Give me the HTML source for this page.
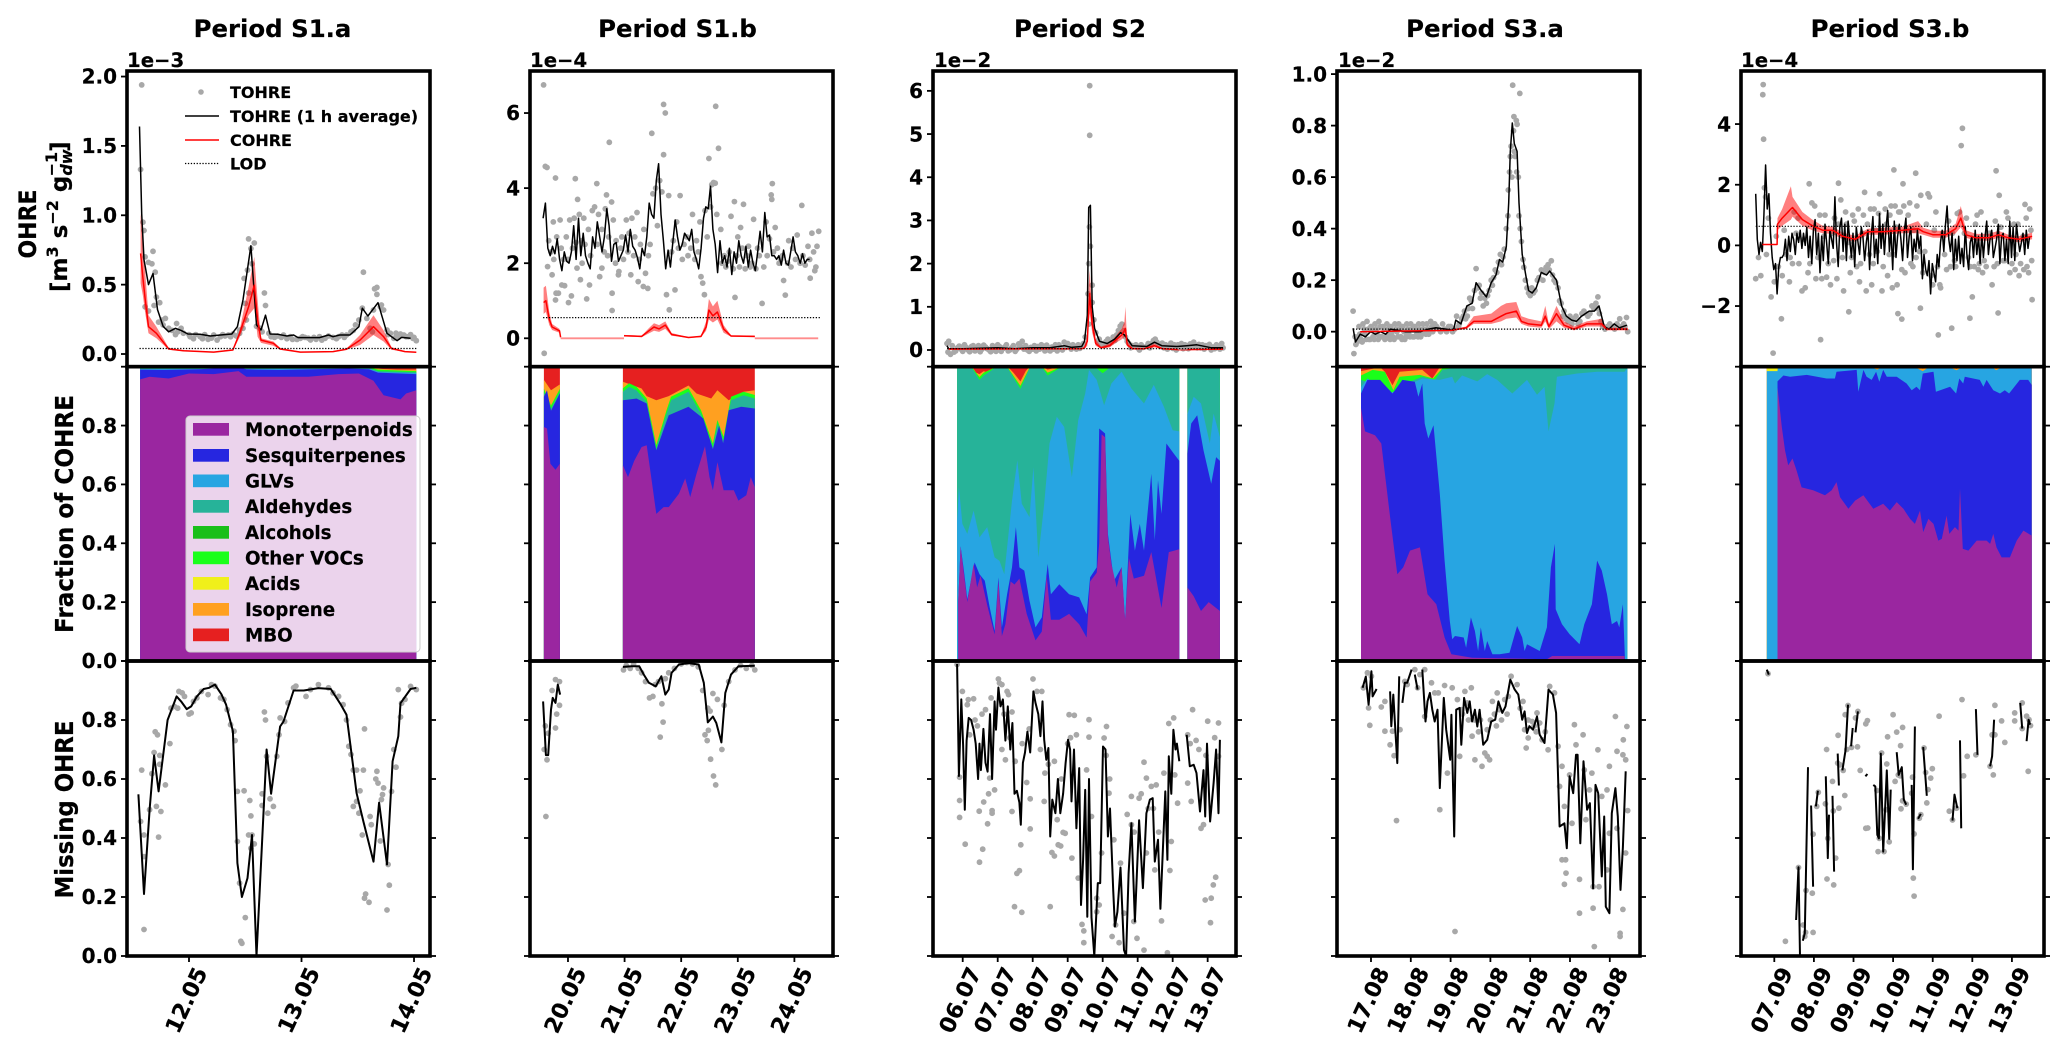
<!DOCTYPE html>
<html lang="en">
<head>
<meta charset="utf-8">
<title>OHRE periods chart</title>
<style>
html,body{margin:0;padding:0;background:#fff;}
svg{display:block;}
text{font-family:"DejaVu Sans","Liberation Sans",sans-serif;font-weight:bold;fill:#000;stroke:#000;stroke-width:0.2;}
</style>
</head>
<body>
<svg id="chart" width="2067" height="1046" viewBox="0 0 2067 1046" xmlns="http://www.w3.org/2000/svg">
<defs id="clips"></defs>
<g id="marks"></g>
<g id="frames"></g>

<g font-size="24.4" text-anchor="middle">
<text x="272.5" y="37">Period S1.a</text>
<text x="677.5" y="37">Period S1.b</text>
<text x="1080" y="37">Period S2</text>
<text x="1485" y="37">Period S3.a</text>
<text x="1890" y="37">Period S3.b</text>
</g>

<g font-size="19.7">
<text x="127" y="67">1e−3</text>
<text x="530" y="67">1e−4</text>
<text x="934" y="67">1e−2</text>
<text x="1338" y="67">1e−2</text>
<text x="1741" y="67">1e−4</text>
</g>

<text transform="rotate(-90 36 224)" x="36" y="224" font-size="24" text-anchor="middle" textLength="69" lengthAdjust="spacingAndGlyphs">OHRE</text>
<text transform="rotate(-90 67 292)" x="67" y="292" font-size="23">[m<tspan font-size="16" dy="-9">3</tspan><tspan dy="9"> s</tspan><tspan font-size="16" dy="-9">−2</tspan><tspan dy="9"> g</tspan><tspan font-size="16" font-style="italic" dy="5">dw</tspan><tspan font-size="16" dx="-27" dy="-15">−1</tspan><tspan dy="10">]</tspan></text>
<text transform="rotate(-90 73 514)" x="73" y="514" font-size="25" text-anchor="middle" textLength="238" lengthAdjust="spacingAndGlyphs">Fraction of COHRE</text>
<text transform="rotate(-90 73 809.5)" x="73" y="809.5" font-size="25" text-anchor="middle" textLength="178" lengthAdjust="spacingAndGlyphs">Missing OHRE</text>

<g font-size="16">
<g><circle cx="201" cy="92" r="2.8" fill="#a8a8a8"/><text x="230" y="98">TOHRE</text></g>
<g><line x1="185" x2="219" y1="116" y2="116" stroke="#000" stroke-width="1.4"/><text x="230" y="122">TOHRE (1 h average)</text></g>
<g><line x1="185" x2="219" y1="140" y2="140" stroke="#f00" stroke-width="1.4"/><text x="230" y="146">COHRE</text></g>
<g><line x1="185" x2="219" y1="163.5" y2="163.5" stroke="#000" stroke-width="1.2" stroke-dasharray="1.3 1.6"/><text x="230" y="169.5">LOD</text></g>
</g>

<g font-size="18.3">
<rect x="186" y="416" width="234" height="236" rx="4" fill="#fff" fill-opacity="0.8" stroke="#ccc" stroke-width="1"/>
<g><rect x="193" y="423" width="36" height="12.7" fill="#9a26a0"/><text x="245" y="436">Monoterpenoids</text></g>
<g><rect x="193" y="449" width="36" height="12.7" fill="#2626e0"/><text x="245" y="462">Sesquiterpenes</text></g>
<g><rect x="193" y="474.5" width="36" height="12.7" fill="#27a5e2"/><text x="245" y="487.5">GLVs</text></g>
<g><rect x="193" y="500" width="36" height="12.7" fill="#26b399"/><text x="245" y="513">Aldehydes</text></g>
<g><rect x="193" y="526" width="36" height="12.7" fill="#1abf1a"/><text x="245" y="539">Alcohols</text></g>
<g><rect x="193" y="551.5" width="36" height="12.7" fill="#1aff1a"/><text x="245" y="564.5">Other VOCs</text></g>
<g><rect x="193" y="577" width="36" height="12.7" fill="#f0f01a"/><text x="245" y="590">Acids</text></g>
<g><rect x="193" y="603" width="36" height="12.7" fill="#ffa020"/><text x="245" y="616">Isoprene</text></g>
<g><rect x="193" y="628.5" width="36" height="12.7" fill="#e62020"/><text x="245" y="641.5">MBO</text></g>
</g>

<script>
// ---------- axis tick data ----------
const s1aXTicks=[12,13,14];
const s1aXLabels=['12.05','13.05','14.05'];
const s1bXTicks=[20,21,22,23,24];
const s1bXLabels=['20.05','21.05','22.05','23.05','24.05'];
const s2XTicks=[6,7,8,9,10,11,12,13];
const s2XLabels=['06.07','07.07','08.07','09.07','10.07','11.07','12.07','13.07'];
const s3aXTicks=[17,18,19,20,21,22,23];
const s3aXLabels=['17.08','18.08','19.08','20.08','21.08','22.08','23.08'];
const s3bXTicks=[7,8,9,10,11,12,13];
const s3bXLabels=['07.09','08.09','09.09','10.09','11.09','12.09','13.09'];
const s1aYTicks=[0,0.5,1,1.5,2];
const s1aYLabels=['0.0','0.5','1.0','1.5','2.0'];
const s1bYTicks=[0,2,4,6];
const s1bYLabels=['0','2','4','6'];
const s2YTicks=[0,1,2,3,4,5,6];
const s2YLabels=['0','1','2','3','4','5','6'];
const s3aYTicks=[0,0.2,0.4,0.6,0.8,1];
const s3aYLabels=['0.0','0.2','0.4','0.6','0.8','1.0'];
const s3bYTicks=[-2,0,2,4];
const s3bYLabels=['−2','0','2','4'];
const fractionTicks=[0,0.2,0.4,0.6,0.8,1];
const fractionLabels=['0.0','0.2','0.4','0.6','0.8',''];
const s1aXLim=[11.449,14.142];
const s1bXLim=[19.329,24.682];
const s2XLim=[5.151,13.81];
const s3aXLim=[16.146,23.759];
const s3bXLim=[6.159,13.81];
const s1aYLim=[-0.0915,2.04];
const s1bYLim=[-0.757,7.12];
const s2YLim=[-0.387,6.46];
const s3aYLim=[-0.136,1.012];
const s3bYLim=[-4,5.75];

// ---------- OHRE row: levels of detection ----------
const s1aLod=[[11.56,0.04],[14.02,0.04]];
const s1bLod=[[19.56,0.55],[24.45,0.55]];
const s2Lod=[[5.55,0.03],[13.44,0.03]];
const s3aLod=[[16.55,0.01],[23.45,0.01]];
const s3bLod=[[6.53,0.63],[13.51,0.63]];

// ---------- OHRE row: TOHRE scatter (day, value) ----------
const s1aPts=[[11.58,1.94],[11.57,1.33],[11.59,.95],[11.6,.89],[11.61,.7],[11.64,.66],[11.67,.65],[11.68,.74],[11.7,.59],[11.61,.34],[11.64,.31],[11.69,.35],[11.71,.41],[11.74,.37],[11.73,.23],[11.76,.245],[11.79,.257],[11.77,.21],[11.82,.185],[11.85,.17],[11.89,.22],[11.88,.14],[11.93,.185],[11.95,.15],[12.01,.125],[12.04,.11],[12.1,.125],[12.17,.106],[12.22,.137],[12.28,.125],[12.35,.137],[12.39,.144],[12.45,.149],[12.49,.545],[12.52,.605],[12.53,.83],[12.55,.76],[12.58,.8],[12.56,.65],[12.53,.44],[12.5,.365],[12.51,.245],[12.48,.185],[12.45,.173],[12.6,.2],[12.63,.185],[12.67,.44],[12.68,.35],[12.65,.16],[12.71,.149],[12.73,.125],[12.76,.12],[12.84,.137],[12.9,.125],[12.99,.113],[13.08,.101],[13.13,.106],[13.21,.113],[13.28,.12],[13.36,.137],[13.4,.137],[13.48,.21],[13.51,.245],[13.55,.59],[13.54,.33],[13.58,.257],[13.61,.185],[13.63,.16],[13.64,.317],[13.65,.47],[13.67,.48],[13.67,.43],[13.7,.34],[13.73,.317],[13.71,.353],[13.76,.173],[13.79,.149],[13.82,.113],[13.88,.144],[13.91,.137],[13.95,.125],[13.99,.113],[14.02,.096],[11.9,.16],[12,.14],[12.12,.11],[12.25,.1],[12.32,.13],[12.92,.105],[13.03,.12],[13.18,.1],[13.31,.11],[13.44,.16],[13.84,.15],[12.06,.14],[12.14,.14],[12.2,.115],[12.3,.14],[12.37,.125],[12.42,.13],[12.79,.13],[12.82,.12],[12.87,.11],[12.96,.105],[13.01,.125],[13.06,.115],[13.11,.12],[13.16,.125],[13.24,.13],[13.33,.125],[13.38,.12],[13.46,.17],[13.77,.14],[13.86,.12],[13.93,.125],[13.97,.14],[14,.12]];
const s1bPts=[[19.57,6.75],[19.58,-.4],[19.6,4.58],[19.63,4.55],[19.78,4.27],[20.13,4.25],[20.17,3.7],[20.51,4.12],[20.73,5.22],[20.68,3.82],[20.77,3.63],[20.78,.74],[20.78,1.2],[21.48,5.46],[21.69,6.23],[21.72,6],[21.69,4.89],[22.61,6.18],[22.66,5.06],[22.49,4.79],[22.57,4.15],[22.54,4.09],[22.6,4.13],[21.79,.76],[21.74,1.16],[21.89,1.29],[22.41,1.16],[22.38,1.47],[22.35,1.64],[23.61,4.12],[23.59,3.82],[23.6,3.7],[23.43,.93],[22.95,1.09],[24.13,3.54],[23.84,1.15],[23.81,1.54],[22.94,3.64],[23.1,3.57],[23.28,3.17],[19.72,1.69],[19.64,1.91],[19.79,1.2],[19.83,1.2],[19.89,1.42],[19.94,1.4],[19.78,1.02],[20.01,.95],[20.06,1.13],[20.33,1.05],[20.38,1.42],[20.22,1.56],[20.16,1.87],[20.56,1.64],[20.6,1.87],[20.89,1.69],[20.9,1.78],[21.11,1.69],[21.24,1.51],[21.33,1.38],[21.41,1.33],[21.37,1.73],
[19.66,2.6],[19.7,2.3],[19.74,3.1],[19.8,2.7],[19.86,3.15],[19.92,2.1],[19.97,2.7],[20.03,3.15],[20.08,2.4],[20.11,3.2],[20.2,3.3],[20.25,2],[20.28,3.2],[20.3,2.5],[20.36,2.9],[20.43,3.4],[20.47,3.5],[20.54,3.3],[20.6,2.9],[20.66,3.45],[20.7,2.2],[20.8,3.15],[20.85,2.6],[20.93,2.4],[20.98,2.1],[21.03,3.15],[21.08,2.8],[21.13,3.2],[21.18,2.7],[21.22,3.35],[21.28,2.5],[21.34,2.9],[21.42,2.2],[21.5,3.85],[21.55,4],[21.58,3],[21.62,4.2],[21.66,3.9],[21.78,3.8],[21.86,2.6],[21.92,3.1],[21.98,3.8],[22.05,2.5],[22.12,2.2],[22.2,3.3],[22.27,2.6],[22.33,3.1],[22.42,3.4],[22.46,2.7],[22.52,3.5],[22.63,3.3],[22.7,2.9],[22.76,2.2],[22.82,2.05],[22.88,3.25],[23,2.7],[23.05,2.95],[23.16,2.2],[23.22,1.9],[23.35,2.4],[23.5,3.1],[23.56,2.65],[23.66,2.95],[23.7,2.4],[23.76,2.1],[23.9,2.6],[23.97,2.4],[24.05,2.75],[24.15,2.2],[24.24,2.45],[24.31,2.8],[24.36,1.8],[24.4,2.45],[24.43,2.85],[24.38,1.9],[24.28,1.6],
[19.75,2.1],[19.88,2.4],[20,2.1],[20.14,2.55],[20.24,2.6],[20.4,2.2],[20.52,2.5],[20.64,2.3],[20.72,2.7],[20.84,2],[20.95,2.7],[21.06,2.3],[21.16,2.2],[21.26,2.1],[21.45,2.5],[21.83,2.3],[21.95,2.4],[22.02,2.1],[22.1,2.7],[22.17,2.4],[22.24,2.1],[22.3,2.3],[22.72,2],[22.79,1.9],[22.85,2.3],[22.92,1.85],[22.98,2.2],[23.03,1.9],[23.08,2.4],[23.13,1.85],[23.19,2.45],[23.25,2],[23.32,1.85],[23.38,2.2],[23.46,1.9],[23.52,2.2],[23.63,2.3],[23.73,2],[23.79,2.2],[23.88,2],[23.94,1.9],[24.02,2.1],[24.1,2],[24.19,1.95],[24.27,2.1],[24.34,2.3]];
const s2Pts=[[5.55,.15],[5.58,-.05],[5.6,.2],[5.65,-.1],[5.7,.1],[5.75,-.05],[5.85,.05],[5.95,.02],[6.05,.12],[6.15,0],[6.25,.08],[6.35,-.02],[6.45,.1],[6.55,.02],[6.65,.07],[6.75,0],[6.85,.1],[6.95,-.03],[7.05,.08],[7.15,.03],[7.25,.12],[7.35,0],[7.45,.1],[7.55,.02],[7.65,.09],[7.7,.2],[7.85,0],[7.95,.06],[8.05,.1],[8.2,.02],[8.3,.09],[8.45,0],[8.55,.07],[8.65,.12],[8.8,.05],[8.9,.18],[9.05,.08],[9.2,.05],[9.3,.12],[9.4,.1],[9.5,.3],[9.63,6.12],[9.63,4.97],[9.62,2.85],[9.6,2],[9.65,2.4],[9.58,1.3],[9.7,1.5],[9.7,1.1],[9.6,.6],[9.8,.4],[9.9,.25],[10,.15],[10.1,.2],[10.2,.15],[10.3,.3],[10.4,.35],[10.5,.55],[10.55,.6],[10.65,.3],[10.75,.15],[10.85,.1],[11,.05],[11.1,.12],[11.25,.08],[11.4,.15],[11.5,.25],[11.6,.12],[11.75,.05],[11.9,.1],[12,.04],[12.15,.12],[12.3,.03],[12.4,.1],[12.6,.18],[12.8,.05],[12.95,.1],[13.1,0],[13.25,.12],[13.35,.02],[13.4,.15],[13.44,.05],
[5.8,-.02],[5.9,.09],[6,-.03],[6.1,.06],[6.2,-.04],[6.3,.1],[6.4,.03],[6.5,-.04],[6.6,.11],[6.7,.03],[6.8,-.04],[6.9,.03],[7,.12],[7.1,-.03],[7.2,.07],[7.3,-.02],[7.4,.05],[7.5,-.03],[7.6,.14],[7.75,.02],[7.8,.1],[7.9,-.03],[8,.02],[8.1,-.02],[8.15,.08],[8.25,.12],[8.35,-.02],[8.4,.11],[8.5,-.02],[8.6,.02],[8.7,-.02],[8.75,.12],[8.85,0],[8.95,.06],[9,.15],[9.1,.02],[9.15,.12],[9.25,.02],[9.35,.04],[9.45,.15],[9.75,.7],[9.85,.2],[9.95,.12],[10.05,.1],[10.15,.25],[10.25,.18],[10.35,.22],[10.45,.45],[10.6,.45],[10.7,.2],[10.8,.05],[10.95,.12],[11.05,0],[11.15,.06],[11.3,.15],[11.35,.05],[11.45,.22],[11.55,.18],[11.65,.08],[11.7,.16],[11.8,.12],[11.85,.02],[11.95,.16],[12.05,.12],[12.1,0],[12.2,.08],[12.25,.15],[12.35,.12],[12.45,.03],[12.5,.14],[12.55,.08],[12.65,.1],[12.7,.05],[12.75,.13],[12.85,.12],[12.9,.02],[13,.08],[13.05,.13],[13.15,.07],[13.2,.03],[13.3,.09]];
const s3aPts=[[16.55,.08],[16.57,-.085],[16.6,-.02],[16.65,-.04],[16.7,.02],[16.75,-.03],[16.8,.03],[16.85,-.01],[16.9,.04],[16.95,-.03],[17,.02],[17.05,-.02],[17.1,.03],[17.15,-.01],[17.2,.04],[17.25,-.02],[17.3,.02],[17.35,-.03],[17.4,.03],[17.45,-.01],[17.5,.02],[17.55,-.02],[17.6,.03],[17.65,0],[17.7,.03],[17.75,-.02],[17.8,.02],[17.85,-.03],[17.9,.03],[17.95,-.01],[18,.03],[18.05,-.02],[18.1,.02],[18.15,-.01],[18.2,.03],[18.25,-.02],[18.3,.03],[18.35,0],[18.4,.03],[18.45,-.01],[18.5,.04],[18.55,0],[18.6,.03],[18.7,.01],[18.8,.03],[18.9,0],[19,.02],[19.1,.01],[19.15,.06],[19.2,.02],[19.28,.05],[19.35,.08],[19.42,.06],[19.48,.13],[19.55,.09],[19.64,.245],[19.68,.17],[19.75,.13],[19.82,.1],[19.9,.11],[19.97,.16],[20.05,.18],[20.12,.24],[20.2,.27],[20.28,.26],[20.35,.32],[20.4,.4],[20.45,.55],[20.48,.62],[20.5,.68],[20.56,.957],[20.74,.925],[20.59,.835],[20.65,.82],[20.67,.805],[20.58,.78],[20.62,.68],[20.7,.6],[20.72,.45],[20.78,.35],[20.84,.25],[20.92,.17],[21,.14],[21.08,.15],[21.18,.2],[21.28,.24],[21.36,.23],[21.45,.26],[21.53,.275],[21.6,.2],[21.7,.17],[21.78,.11],[21.85,.08],[21.95,.04],[22.05,.03],[22.15,.06],[22.25,.04],[22.35,.08],[22.45,.06],[22.55,.1],[22.65,.11],[22.7,.135],[22.78,.04],[22.88,.01],[23,.03],[23.12,.01],[23.25,.05],[23.35,.03],[23.42,.055],[23.45,0],
[16.62,-.05],[16.68,-.03],[16.72,-.01],[16.78,-.04],[16.83,.01],[16.88,-.03],[16.93,.01],[16.98,-.03],[17.03,.01],[17.08,-.03],[17.13,.01],[17.18,-.03],[17.23,.02],[17.28,-.02],[17.33,.01],[17.38,-.02],[17.43,.01],[17.48,-.03],[17.53,0],[17.58,-.03],[17.63,.01],[17.68,-.02],[17.73,.01],[17.78,-.03],[17.83,0],[17.88,-.02],[17.93,.01],[17.98,-.02],[18.03,.01],[18.08,-.02],[18.13,.01],[18.18,-.02],[18.23,.01],[18.28,-.01],[18.33,.01],[18.38,-.01],[18.43,.01],[18.48,.01],[18.53,.02],[18.58,.01],[18.65,.02],[18.75,0],[18.85,.01],[18.95,.02],[19.05,0],[19.22,.03],[19.32,.06],[19.38,.05],[19.45,.09],[19.52,.12],[19.6,.16],[19.72,.18],[19.78,.15],[19.86,.13],[19.93,.14],[20.02,.2],[20.08,.21],[20.16,.23],[20.25,.3],[20.32,.29],[20.44,.45],[20.52,.72],[20.54,.6],[20.6,.7],[20.66,.62],[20.75,.4],[20.82,.28],[20.88,.2],[20.96,.15],[21.04,.17],[21.12,.16],[21.22,.21],[21.32,.2],[21.4,.25],[21.48,.24],[21.56,.22],[21.64,.19],[21.74,.12],[21.82,.06],[21.9,.05],[22,.06],[22.1,.05],[22.2,.03],[22.3,.07],[22.4,.07],[22.5,.07],[22.6,.09],[22.68,.09],[22.74,.07],[22.82,.02],[22.94,.02],[23.06,.02],[23.18,.03],[23.3,.02],[23.38,.02]];
const s3bPts=[[6.72,5.3],[6.71,4.97],[6.73,3.5],[6.97,-3.55],[8.17,-3.11],[11.14,-2.95],[11.48,-2.73],[7.18,-2.42],[8.88,-2.19],[11.75,3.86],[11.72,3.29],[10.02,2.49],[10.57,2.38],[12.6,2.46],[7.88,2.03],[8.62,2.05],[10.25,2.03],[13.51,-1.79],[10.12,-2.25],[10.22,-2.43],[11.94,-2.4],[12.65,-2.23],[10.69,-2.07],
[6.53,-1.1],[6.6,-.4],[6.66,-1],[6.75,1.9],[6.78,1.6],[6.85,.9],[6.92,-1.7],[7,-1.2],[7.1,-.7],[7.2,-1],[7.3,-.3],[7.38,-1.2],[7.46,-.6],[7.55,.4],[7.62,-.6],[7.7,-1.5],[7.78,-1.4],[7.85,-.9],[7.95,1.4],[8.02,1.3],[8.1,-.4],[8.2,-1.1],[8.28,1],[8.36,-.6],[8.42,-1.3],[8.52,.9],[8.58,-1.1],[8.68,1.5],[8.75,-1.5],[8.82,.7],[8.92,-.9],[8.98,1],[9.08,-.7],[9.15,-1.2],[9.22,.4],[9.28,1.75],[9.32,-1.5],[9.4,-.3],[9.46,-1.3],[9.52,1.2],[9.6,-.2],[9.66,1.7],[9.72,-1.5],[9.8,1.2],[9.86,-1],[9.92,1],[9.98,-1.4],[10.05,1.3],[10.1,-1.3],[10.18,1.1],[10.3,-.9],[10.38,1],[10.45,-.6],[10.52,.5],[10.6,1.3],[10.66,-.2],[10.75,-.9],[10.84,.7],[10.92,1.6],[11,-1.3],[11.08,1.1],[11.2,-1.4],[11.3,-.3],[11.4,.8],[11.55,-.5],[11.62,1.05],[11.85,.9],[11.9,-.4],[12,-1.7],[12.08,.7],[12.15,-.8],[12.22,1.1],[12.3,-.5],[12.4,.4],[12.5,-1.3],[12.58,.8],[12.68,1.65],[12.78,-.5],[12.86,1.1],[12.95,-.9],[13.05,.7],[13.1,-.3],[13.18,-1],[13.28,.3],[13.33,1.35],[13.38,-.7],[13.45,1.2],[13.5,-.5],
[6.8,-.3],[7.05,.3],[7.25,.5],[7.4,-.4],[7.5,1.1],[7.6,.9],[7.75,.2],[7.9,-.6],[8.05,-1.1],[8.15,1],[8.25,.3],[8.32,-1.05],[8.45,.4],[8.5,-.5],[8.62,.7],[8.72,-.4],[8.8,1.1],[8.88,.1],[8.95,-.4],[9.02,.8],[9.12,1.2],[9.18,-.6],[9.25,1],[9.35,.7],[9.43,1.2],[9.5,-.6],[9.56,.5],[9.63,1.05],[9.7,.3],[9.75,-.7],[9.83,.7],[9.9,-.3],[9.95,1.3],[10.02,-.3],[10.08,.6],[10.14,1.1],[10.22,-.8],[10.27,1.3],[10.34,.5],[10.42,1.4],[10.5,-.7],[10.58,-.4],[10.7,1.65],[10.8,-.2],[10.88,1.7],[10.96,-1],[11.04,.5],[11.12,-.7],[11.18,-1.3],[11.25,.4],[11.35,-.8],[11.45,-.7],[11.5,.4],[11.58,-.7],[11.68,1.1],[11.8,.4],[11.95,-.7],[12.05,-.7],[12.12,1],[12.18,-.6],[12.26,-.9],[12.35,-.7],[12.45,.4],[12.55,-.7],[12.63,-.6],[12.72,.6],[12.82,-.5],[12.9,.9],[13,-.6],[13.08,-.8],[13.15,.7],[13.22,-.6],[13.3,-.8],[13.36,.9],[13.42,-.9],[13.48,.5]];

// ---------- OHRE row: TOHRE 1 h average ----------
const s1aAvg=[[11.56,1.64],[11.58,1.01],[11.6,.68],[11.64,.5],[11.68,.58],[11.72,.32],[11.77,.2],[11.82,.16],[11.88,.185],[11.93,.17],[11.99,.144],[12.1,.142],[12.19,.13],[12.28,.137],[12.38,.144],[12.43,.197],[12.48,.39],[12.55,.78],[12.6,.21],[12.64,.173],[12.68,.28],[12.72,.144],[12.79,.142],[12.87,.13],[12.93,.137],[12.97,.118],[13.16,.118],[13.24,.137],[13.28,.125],[13.34,.137],[13.43,.137],[13.51,.197],[13.54,.33],[13.59,.274],[13.68,.37],[13.76,.149],[13.8,.125],[13.85,.096],[13.89,.12],[13.97,.113]];
const s1bAvgStart=[19.56];
const s1bAvgHourly=[3.2,3.6,2.4,2.2,2.45,2.25,2.65,2.1,1.8,2.3,2.05,2,2.3,3,2.1,3.2,2.2,2.8,2.2,2,1.85,2.7,2.4,3.1,2.7,2.3,2.7,3.45,3,2.05,2.5,2.55,2.05,2.2,2.35,2.75,2.3,2.9,2.45,2.35,2.15,1.85,2.4,2.2,2.7,3.6,3.3,3.2,4.2,4.65,3.3,2.6,1.85,2.35,1.9,2.55,3.15,2.7,2.35,2.5,2.8,2.7,2.6,2.9,2.3,2.1,1.85,2.4,3.2,3.5,3.45,4.05,2.9,2.5,1.75,2.6,2,2.2,1.9,2.4,1.7,2.3,2,2.6,2.2,2,2.45,1.9,2.35,2,1.8,2.3,2.85,2.3,3.35,2.7,2.75,2.2,2.2,2.1,2.2,1.95,2.35,2,1.95,2.3,2.7,2.3,2.2,2,2.25,2,2.1,2.1];
const s2Avg=[[5.55,.1],[5.6,.03],[5.9,.03],[6,.03],[6.5,.04],[7,.05],[7.5,.03],[8,.05],[8.5,.05],[8.9,.1],[9.1,.06],[9.4,.08],[9.48,.2],[9.56,.8],[9.6,3.3],[9.65,3.35],[9.7,1],[9.77,.5],[9.91,.2],[10.13,.15],[10.34,.25],[10.51,.4],[10.62,.35],[10.84,.1],[11.26,.08],[11.48,.18],[11.69,.1],[12.12,.08],[12.4,.1],[12.69,.12],[13.11,.05],[13.44,.05]];
const s3aAvg=[[16.55,.013],[16.61,-.04],[16.73,-.01],[16.86,-.02],[16.99,0],[17.11,-.01],[17.24,0],[17.37,-.01],[17.49,.01],[17.68,.005],[17.87,0],[18.06,0],[18.25,0],[18.44,.01],[18.63,.015],[18.88,.01],[19.07,.005],[19.13,.045],[19.26,.03],[19.41,.1],[19.54,.11],[19.64,.19],[19.77,.16],[19.9,.135],[20.02,.19],[20.14,.22],[20.23,.28],[20.31,.27],[20.4,.33],[20.46,.5],[20.5,.7],[20.55,.81],[20.6,.73],[20.67,.7],[20.72,.5],[20.8,.3],[20.9,.21],[20.96,.16],[21.05,.15],[21.15,.17],[21.28,.23],[21.41,.22],[21.49,.235],[21.66,.2],[21.79,.1],[21.91,.06],[22.04,.045],[22.16,.04],[22.29,.06],[22.48,.08],[22.61,.08],[22.73,.1],[22.86,.02],[22.98,.01],[23.11,.03],[23.24,.015],[23.43,.025]];
const s3bAvgStart=[6.53];
const s3bAvgHourly=[1.7,.2,-.3,.1,-.2,1,2.65,1.2,1.7,.4,-.4,-.8,-.6,-1.6,-.7,-.4,-.4,-.3,.2,-.5,.3,-.2,.4,.2,-.3,.4,.1,.5,-.1,.4,0,.6,-.4,.3,-.6,.5,.85,-.3,.4,-.9,.3,-.5,.7,.1,-.6,.5,.2,-.1,1.6,.1,-.7,.6,.9,-.2,.7,-.5,.8,.2,-.4,.4,-.7,.6,.1,-.3,.6,.3,-.5,.1,.5,-.8,.3,.95,-.4,.2,-.6,1.05,-.1,.7,-.3,.6,1.15,-.2,.5,-.8,.8,-.4,.3,.7,.2,-.5,.45,.9,-.4,.3,.6,-.5,.2,-.2,.5,-.1,.3,-1.1,-.3,-.8,-1,-.5,-1.6,-.6,-.9,-1.2,-.3,-.7,.1,.5,-.2,.7,1.3,.2,-.2,.4,-.8,.2,-.5,.3,-.6,-.1,-.7,.6,-.3,-.8,.1,.3,-.4,.5,-.3,.3,-.6,.4,-.4,.3,.8,-.3,.2,.5,-.4,-.1,.2,.7,-.6,.3,.4,-.5,.2,-.6,.8,-.4,.6,-.5,.7,.2,-.2,.1,.4,-.3,.5,-.1,.3];

// ---------- OHRE row: COHRE line and uncertainty band (null = gap) ----------
const s1aCohreT=[11.57,11.59,11.61,11.64,11.71,11.82,11.95,12.22,12.39,12.45,12.53,12.58,12.61,12.64,12.75,12.81,12.99,13.28,13.4,13.52,13.64,13.73,13.8,13.92,14.02];
const s1aCohre=[.725,.55,.4,.197,.149,.036,.024,.014,.029,.149,.34,.497,.245,.1,.077,.036,.014,.017,.034,.1,.197,.125,.04,.017,.012];
const s1aCohreLo=[.51,.42,.3,.15,.113,.03,.02,.012,.025,.12,.28,.33,.125,.08,.06,.03,.012,.015,.03,.065,.137,.09,.03,.015,.01];
const s1aCohreHi=[1.01,.9,.6,.28,.197,.045,.028,.016,.033,.17,.485,.7,.39,.113,.09,.045,.016,.02,.04,.137,.28,.17,.05,.02,.014];
const s1bCohreT=[19.57,19.61,19.67,19.72,19.85,19.87,null,20.99,21.3,21.43,21.52,21.61,21.72,21.83,22.13,22.35,22.44,22.49,22.56,22.64,22.75,22.88,23.3];
const s1bCohre=[.95,1,.5,.3,.2,.03,null,.07,.05,.2,.3,.25,.35,.1,.02,.05,.3,.75,.6,.7,.25,.06,.05];
const s1bCohreLo=[.65,.7,.35,.22,.15,.02,null,.05,.03,.13,.2,.17,.25,.07,.01,.03,.2,.5,.42,.5,.15,.04,.03];
const s1bCohreHi=[1.35,1.4,.7,.38,.25,.04,null,.09,.07,.27,.4,.35,.45,.14,.03,.07,.45,1.05,.85,1,.35,.08,.07];
const s1bCohreGap=[[19.87,0],[20.99,0],null,[23.3,0],[24.42,0]];
const s2CohreT=[5.6,9.4,9.48,9.56,9.6,9.63,9.7,9.8,9.95,10.2,10.4,10.55,10.62,10.65,10.7,10.85,11.2,11.48,11.7,12.15,null,12.42,13.44];
const s2Cohre=[.02,.03,.05,.2,.9,1.3,.6,.15,.05,.1,.25,.35,.45,.5,.12,.03,.03,.1,.03,.01,null,.01,.02];
const s2CohreLo=[.01,.02,.03,.1,.6,.85,.4,.1,.03,.06,.18,.25,.3,.3,.08,.02,.02,.06,.02,.005,null,.005,.01];
const s2CohreHi=[.03,.04,.07,.35,1.5,1.85,.9,.25,.08,.15,.35,.5,.65,1,.2,.05,.05,.15,.05,.02,null,.02,.04];
const s2CohreGap=[[12.15,0],[12.42,0]];
const s3aCohreT=[16.73,19.01,19.39,19.58,20.02,20.27,20.4,20.65,20.78,20.96,21.28,21.38,21.47,21.66,21.85,22.1,22.42,22.8,22.92,23.45];
const s3aCohre=[0,.005,.015,.04,.04,.06,.07,.08,.04,.03,.025,.06,.02,.07,.025,.01,.03,.03,.01,.01];
const s3aCohreLo=[0,.003,.01,.03,.03,.04,.05,.055,.03,.02,.015,.04,.01,.04,.015,.005,.02,.02,.005,.005];
const s3aCohreHi=[0,.007,.02,.06,.07,.1,.11,.115,.06,.05,.04,.1,.03,.1,.04,.02,.04,.05,.015,.015];
const s3bCohreT=[6.7,7.07,7.08,7.2,7.42,7.46,7.71,7.96,8.22,8.47,8.73,9.04,9.36,9.74,10.25,10.63,10.76,11.01,11.33,11.58,11.71,11.84,12.09,12.41,12.66,12.91,13.17,13.51];
const s3bCohre=[.03,.03,.7,.9,1.2,1.25,.85,.65,.5,.5,.3,.2,.45,.45,.5,.55,.45,.35,.35,.55,.9,.35,.25,.25,.35,.25,.2,.3];
const s3bCohreLo=[.03,.03,.5,.65,.85,.95,.65,.5,.4,.38,.2,.12,.35,.35,.4,.4,.35,.25,.25,.4,.6,.25,.15,.15,.25,.17,.1,.2];
const s3bCohreHi=[.03,.03,.9,1.2,1.95,1.6,1.1,.85,.65,.62,.42,.32,.55,.58,.62,.8,.58,.48,.48,.72,1.3,.5,.38,.38,.48,.35,.3,.42];

// ---------- fraction row: cumulative top of each species (day, fraction) ----------
const s1aMono=[[11.565,.957],[11.65,.966],[11.82,.96],[12,.977],[12.22,.975],[12.44,.985],[12.51,.966],[12.75,.966],[13.06,.966],[13.33,.975],[13.51,.977],[13.64,.952],[13.73,.903],[13.88,.889],[13.93,.909],[14.02,.92]];
const s1aSesq=[[11.565,.99],[11.78,.989],[12.09,.991],[12.44,.998],[12.51,.991],[12.8,.989],[13.42,.994],[13.6,.991],[13.68,.98],[14.02,.975]];
const s1aGlv=[[11.565,.992],[13.6,.993],[13.68,.982],[14.02,.978]];
const s1aAld=[[11.565,.996],[13.6,.996],[13.68,.985],[14.02,.981]];
const s1aOth=[[11.565,.998],[13.6,.998],[13.68,.99],[14.02,.985]];
const s1aIso=[[11.565,1],[13.6,1],[13.7,.993],[13.85,.99],[14.02,.99]];
const s1aMbo=[[11.565,1],[14.02,1]];
const s1bMono=[[19.575,.795],[19.63,.79],[19.69,.67],[19.78,.65],[19.857,.67],null,[20.97,.665],[21.06,.625],[21.17,.68],[21.3,.727],[21.39,.733],[21.47,.625],[21.56,.5],[21.69,.523],[21.78,.523],[21.96,.568],[22.07,.62],[22.16,.557],[22.27,.636],[22.42,.73],[22.5,.625],[22.56,.58],[22.64,.676],[22.75,.58],[22.93,.58],[23.01,.545],[23.15,.563],[23.23,.625],[23.3,.59]];
const s1bSesq=[[19.575,.898],[19.63,.92],[19.7,.85],[19.857,.91],null,[20.97,.886],[21.21,.892],[21.39,.875],[21.56,.716],[21.78,.835],[22.13,.864],[22.39,.824],[22.56,.72],[22.67,.8],[22.74,.74],[22.84,.852],[23.06,.864],[23.3,.858]];
const s1bAld=[[19.575,.915],[19.7,.858],[19.857,.915],null,[20.97,.915],[21.08,.932],[21.21,.92],[21.39,.88],[21.56,.722],[21.74,.84],[21.82,.886],[22.13,.915],[22.35,.84],[22.56,.727],[22.64,.807],[22.75,.75],[22.88,.886],[23.1,.903],[23.3,.892]];
const s1bOth=[[19.575,.925],[19.7,.868],[19.857,.925],null,[20.97,.927],[21.08,.944],[21.21,.932],[21.39,.892],[21.56,.734],[21.74,.852],[21.82,.898],[22.13,.927],[22.35,.852],[22.56,.739],[22.64,.819],[22.75,.762],[22.88,.898],[23.1,.915],[23.3,.904]];
const s1bIso=[[19.575,.955],[19.7,.92],[19.857,.94],null,[20.97,.949],[21.12,.938],[21.3,.926],[21.39,.9],[21.56,.886],[21.78,.9],[22.13,.936],[22.27,.909],[22.53,.892],[22.64,.92],[22.84,.886],[23.1,.915],[23.3,.92]];
const s1bMbo=[[19.575,1],[19.857,1],null,[20.97,1],[23.3,1]];
const s2Mono=[[5.87,.2],[5.94,.39],[6.03,.3],[6.13,.2],[6.31,.33],[6.41,.25],[6.51,.29],[6.7,.19],[6.91,.09],[7.02,.27],[7.12,.085],[7.22,.125],[7.37,.27],[7.48,.26],[7.62,.28],[7.83,.16],[8.08,.07],[8.26,.1],[8.4,.29],[8.52,.14],[8.76,.14],[9.04,.16],[9.33,.125],[9.54,.08],[9.64,.27],[9.83,.3],[9.9,.4],[9.97,.77],[10.07,.76],[10.15,.42],[10.25,.33],[10.4,.25],[10.54,.32],[10.64,.14],[10.75,.35],[10.89,.28],[11.18,.29],[11.39,.37],[11.68,.18],[11.89,.37],[12.19,.38],null,[12.42,.25],[12.6,.22],[12.81,.17],[13.03,.2],[13.35,.17]];
const s2Sesq=[[5.87,.2],[5.94,.39],[6.03,.31],[6.13,.21],[6.34,.335],[6.48,.295],[6.63,.273],[6.77,.182],[6.91,.102],[7.02,.284],[7.12,.114],[7.27,.227],[7.41,.318],[7.52,.455],[7.62,.318],[7.76,.307],[7.91,.205],[8.08,.114],[8.26,.148],[8.43,.33],[8.52,.227],[8.76,.261],[9.04,.227],[9.33,.216],[9.54,.159],[9.64,.284],[9.83,.318],[9.9,.79],[10.07,.773],[10.15,.432],[10.32,.273],[10.54,.318],[10.64,.136],[10.79,.5],[10.92,.375],[11.06,.466],[11.18,.375],[11.39,.636],[11.49,.41],[11.58,.614],[11.68,.5],[11.82,.739],[12.03,.705],[12.19,.68],null,[12.42,.705],[12.53,.807],[12.7,.835],[12.88,.716],[13.1,.602],[13.24,.693],[13.35,.68]];
const s2Glv=[[5.84,.477],[5.89,.591],[5.99,.466],[6.13,.432],[6.31,.511],[6.48,.42],[6.7,.455],[6.91,.352],[7.05,.34],[7.19,.295],[7.41,.545],[7.56,.682],[7.69,.534],[7.91,.489],[8.02,.659],[8.16,.352],[8.33,.534],[8.48,.739],[8.69,.83],[8.9,.795],[9.12,.625],[9.3,.818],[9.5,.909],[9.61,.989],[9.83,.955],[10.04,.869],[10.25,.943],[10.54,.983],[10.82,.926],[11.18,.875],[11.46,.938],[11.75,.864],[12,.784],[12.19,.78],null,[12.42,.84],[12.6,.898],[12.81,.875],[13.06,.739],[13.17,.841],[13.35,.761]];
const s2Ald=[[5.84,.998],[6.27,.995],[6.48,.955],[6.6,.97],[6.91,.995],[7.29,.995],[7.65,.925],[7.91,.995],[8.29,.995],[8.43,.97],[8.76,.995],[9.83,.995],[10,.978],[10.18,.995],[12.19,.995],null,[12.42,.998],[13.35,.998]];
const s2Oth=[[5.84,1],[6.27,.997],[6.48,.965],[6.6,.98],[6.91,.997],[7.29,.997],[7.65,.935],[7.91,.997],[8.29,.997],[8.43,.98],[8.76,.997],[9.83,1],[10,.995],[10.18,1],[12.19,1],null,[12.42,1],[13.35,1]];
const s2Iso=[[5.84,1],[6.27,1],[6.38,.98],[6.48,.975],[6.6,.985],[6.7,.98],[6.91,1],[7.29,1],[7.45,.98],[7.65,.95],[7.8,.985],[7.91,1],[8.29,1],[8.43,.99],[8.76,1],[12.19,1],null,[12.42,1],[13.35,1]];
const s2Mbo=[[5.84,1],[12.19,1],null,[12.42,1],[13.35,1]];
const s3aMono=[[16.75,.86],[16.85,.78],[17.1,.767],[17.26,.739],[17.48,.489],[17.66,.295],[17.81,.318],[17.98,.375],[18.23,.386],[18.42,.227],[18.64,.193],[18.85,.08],[19.02,.023],[19.54,.011],[21.42,.006],[21.55,.017],[23.37,.017]];
const s3aSesq=[[16.75,.909],[16.91,.955],[17.23,.955],[17.54,.909],[17.79,.955],[18.1,.949],[18.19,.898],[18.29,.943],[18.35,.807],[18.44,.756],[18.57,.801],[18.73,.568],[18.85,.341],[18.98,.136],[19.04,.074],[19.11,.085],[19.33,.08],[19.39,.045],[19.51,.148],[19.61,.102],[19.69,.034],[19.76,.114],[19.86,.034],[19.92,.068],[20.05,.023],[20.23,.023],[20.48,.028],[20.67,.119],[20.8,.08],[20.86,.034],[20.92,.057],[21.24,.034],[21.42,.114],[21.52,.318],[21.62,.398],[21.64,.176],[21.8,.125],[21.99,.091],[22.24,.057],[22.36,.125],[22.55,.193],[22.68,.341],[22.8,.307],[22.93,.227],[23.05,.125],[23.18,.136],[23.24,.114],[23.33,.193],[23.38,.011]];
const s3aGlv=[[16.75,.93],[16.91,.96],[17.48,.91],[18.29,.96],[18.73,.955],[19.04,.966],[19.11,.943],[19.29,.97],[19.67,.95],[19.92,.975],[20.17,.955],[20.55,.909],[20.92,.955],[21.17,.905],[21.36,.932],[21.46,.78],[21.61,.875],[21.67,.966],[22.18,.977],[22.68,.983],[23.37,.983],[23.44,.995]];
const s3aAld=[[16.75,.955],[17.48,.92],[17.54,.9],[17.66,.932],[18.29,.966],[18.6,.955],[18.79,.989],[19.04,.995],[23.44,.998]];
const s3aOth=[[16.75,.97],[17.04,.989],[17.35,.983],[17.56,.92],[17.72,.966],[18.23,.972],[18.56,.96],[18.79,.994],[23.44,1]];
const s3aIso=[[16.75,.985],[17.23,.998],[17.35,.983],[17.54,.937],[17.72,.983],[18.29,.989],[18.54,.96],[18.73,.998],[19,1],[23.44,1]];
const s3aMbo=[[16.75,1],[23.44,1]];
const s3bMono=[[7.08,.93],[7.19,.795],[7.27,.716],[7.35,.665],[7.46,.688],[7.56,.648],[7.69,.59],[7.98,.58],[8.28,.563],[8.45,.58],[8.57,.608],[8.66,.557],[8.87,.517],[9.04,.545],[9.25,.563],[9.5,.517],[9.75,.534],[9.92,.511],[10.09,.54],[10.26,.517],[10.43,.483],[10.55,.466],[10.68,.511],[10.76,.438],[10.89,.483],[11.02,.466],[11.14,.409],[11.23,.415],[11.35,.494],[11.42,.432],[11.56,.455],[11.65,.443],[11.69,.585],[11.76,.381],[11.9,.375],[12.11,.409],[12.36,.409],[12.45,.398],[12.53,.432],[12.61,.386],[12.74,.352],[12.95,.352],[13.12,.409],[13.29,.443],[13.5,.426]];
const s3bSesq=[[7.08,.95],[7.23,.97],[7.4,.966],[7.82,.972],[8.32,.96],[8.53,.96],[8.57,.983],[9.08,.989],[9.12,.915],[9.25,.989],[9.33,.966],[9.46,.955],[9.57,.983],[9.65,.949],[9.75,.989],[9.84,.966],[10.09,.966],[10.34,.943],[10.47,.92],[10.59,.932],[10.68,.92],[10.75,.977],[11.02,.983],[11.08,.915],[11.44,.932],[11.59,.909],[11.67,.96],[11.77,.943],[11.81,.966],[12.19,.955],[12.28,.932],[12.36,.955],[12.53,.92],[12.7,.909],[12.82,.92],[12.93,.909],[13.2,.955],[13.41,.955],[13.5,.938]];
const s3bGlv=[[6.81,.985],[7.08,.985],[7.09,.998],[9.5,.995],[9.6,.99],[9.7,.997],[10.6,.995],[10.75,.985],[10.9,.998],[11.42,.998],[11.6,.988],[11.75,.998],[12.5,.998],[12.6,.988],[12.75,.998],[13.5,.995]];
const s3bAcid=[[6.81,1],[7.08,1]];
const s3bIso=[[6.81,1],[9.5,1],[9.6,.995],[9.7,1],[10.6,1],[10.75,.993],[10.9,1],[11.42,1],[11.6,.993],[11.75,1],[12.5,1],[12.6,.993],[12.75,1],[13.5,1]];
const s3bMbo=[[6.81,1],[13.5,1]];

// ---------- missing OHRE row: average lines (null = gap) ----------
const s1aMissing=[[11.55,.548],[11.6,.21],[11.65,.496],[11.69,.68],[11.73,.558],[11.81,.8],[11.89,.88],[11.93,.863],[11.98,.837],[12.02,.846],[12.07,.88],[12.13,.905],[12.18,.909],[12.23,.92],[12.29,.886],[12.33,.852],[12.39,.762],[12.43,.315],[12.47,.2],[12.52,.264],[12.56,.41],[12.6,0],[12.69,.7],[12.73,.55],[12.81,.778],[12.84,.795],[12.93,.9],[13.02,.9],[13.15,.908],[13.26,.905],[13.35,.852],[13.4,.818],[13.49,.552],[13.55,.456],[13.64,.32],[13.69,.52],[13.76,.31],[13.81,.66],[13.86,.745],[13.88,.857],[13.97,.905],[14.02,.909]];
const s1bMissing=[[19.56,.863],[19.61,.681],[19.65,.681],[19.7,.835],[19.73,.875],[19.78,.858],[19.82,.92],[19.86,.886],null,[20.97,.98],[21.12,.982],[21.26,.982],[21.34,.954],[21.43,.926],[21.55,.914],[21.65,.948],[21.72,.886],[21.78,.903],[21.83,.96],[21.96,.988],[22.13,.993],[22.31,.988],[22.4,.926],[22.47,.792],[22.56,.812],[22.62,.79],[22.71,.724],[22.78,.892],[22.88,.954],[23.01,.982],[23.3,.984]];
const s2Missing=[[5.84,.99],[5.89,.61],[5.96,.87],[6.01,.716],[6.06,.496],[6.11,.73],[6.17,.807],[6.24,.8],[6.31,.767],[6.37,.72],[6.44,.6],[6.48,.72],[6.52,.63],[6.59,.77],[6.65,.655],[6.71,.625],[6.78,.82],[6.84,.6],[6.91,.863],[6.95,.767],[7.02,.91],[7.08,.846],[7.15,.87],[7.22,.73],[7.29,.846],[7.36,.7],[7.42,.79],[7.48,.55],[7.55,.56],[7.62,.52],[7.66,.445],[7.72,.655],[7.78,.69],[7.85,.76],[7.93,.69],[8.02,.897],[8.08,.858],[8.16,.82],[8.22,.745],[8.28,.863],[8.33,.733],[8.39,.665],[8.45,.705],[8.5,.405],[8.56,.53],[8.65,.484],[8.72,.6],[8.79,.484],[8.87,.55],[8.94,.654],[9.01,.733],[9.07,.7],[9.11,.524],[9.18,.7],[9.25,.433],[9.33,.637],[9.38,.173],[9.44,.326],[9.5,.563],[9.56,.133],[9.61,.6],[9.68,.13],[9.76,0],[9.86,.247],[9.93,.247],[10.01,.71],[10.08,.7],[10.15,.405],[10.21,.5],[10.3,.224],[10.35,.1],[10.42,.15],[10.51,.3],[10.61,.02],[10.67,0],[10.74,.28],[10.82,.45],[10.92,.117],[11.04,.46],[11.15,.23],[11.25,.484],[11.35,.53],[11.43,.535],[11.49,.32],[11.58,.394],[11.65,.16],[11.79,.558],[11.85,.326],[11.89,.677],[11.96,.55],[12.02,.767],[12.08,.7],[12.12,.72],[12.19,.66],null,[12.4,.75],[12.49,.643],[12.6,.648],[12.68,.62],[12.78,.49],[12.88,.63],[12.93,.473],[12.98,.72],[13.07,.456],[13.17,.586],[13.24,.7],[13.31,.484],[13.35,.733]];
const s3aMissing=[[16.79,.909],[16.87,.947],[16.94,.852],[17.01,.965],[17.04,.88],[17.14,.905],null,[17.48,.897],[17.51,.779],[17.56,.886],[17.61,.768],[17.66,.654],[17.71,.948],null,[17.79,.858],[17.85,.926],[17.91,.926],[18.02,.971],null,[18.1,.954],[18.17,.903],null,[18.29,.971],[18.37,.795],[18.42,.863],[18.48,.892],[18.54,.835],[18.6,.795],[18.67,.835],[18.73,.569],[18.83,.875],[18.89,.767],[18.99,.665],[19.02,.818],[19.09,.405],[19.14,.835],[19.23,.841],[19.27,.716],[19.34,.875],[19.42,.824],[19.48,.863],[19.54,.795],[19.61,.835],[19.67,.778],[19.73,.835],[19.82,.716],[19.92,.733],[20.02,.795],[20.12,.801],[20.2,.863],[20.3,.824],[20.38,.846],[20.5,.937],[20.61,.903],[20.7,.886],[20.8,.801],[20.86,.829],[20.92,.756],[20.98,.779],[21.07,.767],[21.17,.812],[21.24,.75],[21.36,.722],[21.46,.903],[21.57,.886],[21.65,.824],[21.74,.439],[21.86,.45],[21.92,.365],[21.99,.609],[22.08,.552],[22.15,.682],[22.19,.682],[22.26,.382],[22.34,.66],[22.43,.496],[22.5,.518],[22.58,.229],[22.64,.58],[22.71,.552],[22.8,.27],[22.86,.473],[22.9,.167],[22.99,.145],[23.05,.484],[23.14,.569],[23.2,.473],[23.27,.224],[23.33,.37],[23.4,.626]];
const s3bMissing=[[6.81,.971],[6.86,.954],null,[7.55,.122],[7.61,.301],[7.65,0],null,[7.72,.052],[7.77,.077],[7.85,.64],null,[7.93,.51],[7.98,.235],null,[8.05,.507],[8.1,.56],null,[8.3,.609],[8.35,.332],[8.38,.479],null,[8.47,.543],[8.51,.286],null,[8.6,.686],[8.63,.578],null,[8.72,.629],[8.8,.699],[8.86,.852],null,[8.94,.711],[8.98,.773],null,[9.05,.758],[9.11,.829],null,[9.3,.609],[9.35,.617],null,[9.5,.58],[9.55,.575],[9.6,.411],[9.64,.399],[9.69,.686],[9.75,.354],[9.84,.629],[9.9,.397],[9.94,.564],null,[10.09,.691],[10.14,.614],[10.22,.64],[10.27,.53],[10.33,.513],null,[10.47,.58],[10.5,.294],[10.55,.778],null,[10.63,.465],[10.7,.482],null,[10.76,.708],[10.85,.543],null,[11.5,.459],[11.55,.547],[11.62,.501],null,[11.69,.731],[11.72,.433],null,[12.09,.837],[12.13,.682],null,[12.45,.643],[12.5,.677],[12.55,.801],null,[13.21,.858],[13.26,.771],null,[13.37,.728],[13.42,.801],[13.46,.784]];

// ---------- missing OHRE row: scatter ----------
const s1aMissPts=[[11.57,.456],[11.58,.63],[11.6,.41],[11.6,.09],[11.6,.337],[11.65,.496],[11.67,.618],[11.69,.69],[11.7,.76],[11.72,.75],[11.74,.65],[11.71,.507],[11.74,.68],[11.75,.49],[11.73,.403],[11.79,.58],[11.83,.72],[11.84,.84],[11.87,.846],[11.9,.84],[11.91,.897],[11.94,.892],[11.96,.88],[12,.82],[12.02,.824],[12.04,.863],[12.07,.875],[12.11,.897],[12.17,.886],[12.2,.92],[12.23,.915],[12.28,.875],[12.31,.87],[12.34,.835],[12.37,.784],[12.4,.762],[12.41,.73],[12.43,.558],[12.43,.388],[12.49,.56],[12.45,.247],[12.46,.05],[12.47,.043],[12.5,.13],[12.54,.527],[12.55,.475],[12.53,.41],[12.56,.41],[12.55,.365],[12.58,.38],[12.65,.51],[12.65,.55],[12.67,.827],[12.68,.8],[12.7,.484],[12.72,.533],[12.75,.507],[12.69,.677],[12.78,.677],[12.8,.75],[12.81,.807],[12.85,.795],[12.88,.858],[12.93,.909],[12.95,.915],[13.04,.88],[13.08,.903],[13.15,.92],[13.24,.909],[13.28,.892],[13.33,.88],[13.37,.852],[13.4,.8],[13.42,.711],[13.44,.683],[13.46,.63],[13.49,.63],[13.55,.63],[13.56,.77],[13.52,.56],[13.46,.507],[13.49,.524],[13.51,.484],[13.54,.41],[13.61,.473],[13.62,.445],[13.67,.626],[13.66,.6],[13.68,.586],[13.72,.547],[13.71,.53],[13.73,.57],[13.57,.21],[13.56,.196],[13.6,.182],[13.77,.31],[13.78,.24],[13.76,.156],[13.7,.39],[13.8,.558],[13.84,.64],[13.82,.7],[13.88,.81],[13.86,.903],[13.89,.857],[13.92,.87],[13.97,.914],[14.02,.903]];
const s1bMissPts=[[19.61,.473],[19.6,.78],[19.63,.665],[19.58,.7],[19.65,.755],[19.72,.9],[19.78,.773],[19.78,.937],[19.85,.85],[19.8,.82],[19.85,.93],[20.98,.97],[21.03,.985],[21.1,.975],[21.16,.99],[21.24,.975],[21.3,.96],[21.37,.93],[21.44,.875],[21.5,.88],[21.54,.92],[21.6,.93],[21.63,.742],[21.68,.793],[21.66,.855],[21.72,.94],[21.78,.96],[21.88,.975],[22,.99],[22.1,.995],[22.2,.99],[22.3,.98],[22.38,.9],[22.42,.75],[22.46,.73],[22.52,.667],[22.57,.61],[22.61,.58],[22.48,.765],[22.56,.89],[22.47,.84],[22.51,.83],[22.72,.7],[22.76,.85],[22.64,.87],[22.84,.93],[22.95,.97],[23.05,.985],[23.15,.975],[23.25,.985],[23.3,.97]];
const s2MissPts=[[5.84,.988],[5.99,.897],[5.91,.606],[5.91,.527],[5.91,.47],[6.07,.379],[6.13,.852],[6.16,.869],[6.31,.872],[6.48,.318],[6.57,.362],[6.6,.522],[6.71,.448],[6.47,.491],[6.74,.55],[6.84,.493],[6.84,.484],[6.91,.563],[6.77,.603],[6.65,.835],[6.81,.875],[7.02,.939],[7.05,.925],[7.12,.92],[7.22,.665],[7.27,.897],[7.31,.886],[7.41,.827],[7.41,.49],[7.48,.167],[7.55,.28],[7.62,.289],[7.69,.148],[7.66,.377],[7.83,.588],[7.93,.533],[7.93,.431],[8.01,.939],[8.12,.897],[8.26,.897],[8.22,.7],[8.33,.524],[8.5,.167],[8.55,.351],[8.62,.339],[8.73,.377],[8.8,.373],[8.7,.462],[8.87,.419],[8.93,.416],[9.12,.332],[9.04,.818],[9.19,.816],[9.3,.264],[9.41,.107],[9.46,.085],[9.46,.045],[9.61,.801],[9.61,.742],[9.54,.631],[9.68,.473],[9.83,.196],[9.9,.173],[9.83,.15],[9.97,.349],[10.11,.778],[10.04,.739],[10.18,.552],[10.27,.066],[10.32,.394],[10.37,.105],[10.47,.045],[10.51,.315],[10.61,.145],[10.82,.541],[10.82,.445],[10.89,.117],[10.98,.06],[11.04,.535],[11.18,.657],[11.18,.02],[11.25,.603],[11.25,.349],[11.39,.575],[11.53,.58],[11.49,.292],[11.68,.119],[11.85,.011],[11.92,.29],[11.96,.388],[11.89,.788],[12.03,.807],[12.06,.614],[12.14,.518],[12.43,.75],[12.57,.835],[12.67,.731],[12.43,.586],[12.53,.524],[12.81,.433],[12.88,.445],[12.93,.19],[13.1,.196],[13.08,.113],[13.16,.241],[13.23,.267],[13,.796],[13.31,.79],[13.31,.677],
[6.2,.75],[6.35,.8],[6.42,.78],[6.55,.82],[7.12,.7],[7.18,.82],[7.35,.74],[7.5,.66],[7.7,.72],[7.9,.77],[8.35,.62],[8.45,.65],[8.62,.66],[8.82,.6],[9,.72],[9.08,.74],[9.25,.75],[10.1,.68],[10.2,.6],[10.7,.48],[10.9,.42],[11.1,.55],[11.3,.5],[11.45,.5],[11.6,.42],[11.75,.62],[12.5,.72],[12.75,.7],[12.95,.68],[13.2,.74]];
const s3aMissPts=[[16.81,.909],[16.91,.96],[17.01,.948],[16.94,.841],[16.97,.782],[17.26,.844],[17.35,.863],[17.35,.762],[17.48,.716],[17.54,.762],[17.58,.679],[17.64,.459],[17.73,.767],[17.85,.931],[17.91,.92],[18.1,.971],[18.23,.954],[18.17,.909],[18.35,.971],[18.35,.812],[18.52,.926],[18.6,.892],[18.69,.892],[18.73,.496],[18.85,.917],[18.92,.62],[19.04,.909],[19.11,.083],[19.17,.869],[19.23,.677],[19.27,.835],[19.36,.897],[19.42,.858],[19.52,.909],[19.61,.665],[19.54,.745],[19.79,.643],[19.86,.688],[19.92,.677],[19.98,.665],[19.92,.767],[20.05,.863],[20.17,.892],[20.23,.835],[20.36,.869],[20.52,.948],[20.67,.92],[20.82,.863],[20.86,.767],[20.95,.739],[21.05,.795],[21.17,.824],[21.24,.79],[20.9,.705],[21.3,.733],[21.45,.699],[21.49,.914],[21.61,.892],[21.7,.711],[21.74,.575],[21.8,.643],[21.86,.507],[21.8,.326],[21.89,.326],[21.9,.281],[21.86,.243],[21.99,.614],[22.11,.784],[22.15,.716],[22.05,.45],[22.24,.26],[22.24,.145],[22.33,.75],[22.36,.631],[22.4,.462],[22.49,.563],[22.55,.62],[22.58,.235],[22.58,.162],[22.61,.032],[22.7,.699],[22.73,.235],[22.8,.541],[22.93,.563],[22.99,.643],[22.93,.292],[22.99,.416],[23.14,.812],[23.18,.694],[23.26,.077],[23.26,.066],[23.33,.158],[23.34,.733],[23.4,.665],[23.43,.778],[23.33,.682],[23.45,.493],[23.4,.349],[23.18,.433],
[19.3,.82],[19.45,.8],[19.6,.8],[19.7,.76],[19.75,.8],[20,.8],[20.1,.82],[20.15,.78],[20.28,.8],[20.42,.82],[20.45,.88],[20.75,.84],[20.95,.8],[21.1,.78],[21.15,.76],[21.38,.76]];
const s3bMissPts=[[6.84,.957],[7.28,.05],[7.61,.3],[7.73,.105],[7.8,.222],[7.77,.066],[7.79,.08],[7.98,.08],[7.96,.213],[7.98,.413],[8.07,.507],[8.11,.555],[8.32,.7],[8.29,.516],[8.33,.261],[8.35,.399],[8.47,.592],[8.5,.241],[8.49,.492],[8.55,.332],[8.63,.501],[8.61,.748],[8.6,.654],[8.66,.648],[8.74,.629],[8.78,.544],[8.79,.818],[8.83,.7],[8.86,.849],[8.95,.707],[9.05,.807],[9.1,.709],[9.11,.829],[9.17,.629],[9.31,.433],[9.36,.434],[9.31,.787],[9.35,.798],[9.59,.561],[9.62,.354],[9.65,.399],[9.71,.688],[9.77,.354],[9.82,.496],[9.84,.651],[9.86,.743],[9.9,.387],[10,.818],[10.05,.592],[10.09,.759],[10.13,.614],[10.18,.611],[10.2,.499],[10.19,.713],[10.24,.775],[10.24,.526],[10.33,.515],[10.47,.552],[10.49,.606],[10.51,.264],[10.53,.203],[10.53,.414],[10.66,.467],[10.7,.479],[10.78,.705],[10.82,.622],[10.85,.519],[10.88,.564],[10.95,.603],[10.99,.635],[11.16,.813],[11.42,.491],[11.5,.461],[11.6,.501],[11.74,.869],[11.78,.611],[11.87,.677],[12.09,.682],[12.45,.643],[12.5,.75],[12.53,.614],[12.57,.75],[12.57,.85],[12.74,.797],[12.82,.724],[13.07,.824],[13.07,.797],[13.26,.858],[13.26,.771],[13.37,.813],[13.41,.626],[13.43,.801],[13.47,.781]];

// ---------- layout (not data) ----------
const SVG_NS='http://www.w3.org/2000/svg';
const rowTop=[71,366.7,661];
const rowBottom=[366.7,661,956];
const panelLeft=[127,530,933,1337,1741];
const panelWidth=303;
const panelKeys=['s1a','s1b','s2','s3a','s3b'];
const colors={mono:'#9a26a0',sesq:'#2626e0',glv:'#27a5e2',ald:'#26b399',oth:'#1aff1a',acid:'#f0f01a',iso:'#ffa020',mbo:'#e62020'};
const xLimits=[s1aXLim,s1bXLim,s2XLim,s3aXLim,s3bXLim];
const yLimits=[s1aYLim,s1bYLim,s2YLim,s3aYLim,s3bYLim];
const fractionLim=[0,1];

// ---------- axis functions ----------
function xScale(p,t){
  const lim=xLimits[p];
  return panelLeft[p]+(t-lim[0])/(lim[1]-lim[0])*panelWidth;
}
function yScale(p,row,v){
  const lim=row===0?yLimits[p]:fractionLim;
  return rowBottom[row]-(v-lim[0])/(lim[1]-lim[0])*(rowBottom[row]-rowTop[row]);
}

// ---------- svg helpers ----------
const marksLayer=document.getElementById('marks');
const framesLayer=document.getElementById('frames');
const clipsLayer=document.getElementById('clips');
function splitSegments(points){
  const segments=[];
  let current=[];
  points.forEach(function(pt){
    if(pt===null){ if(current.length) segments.push(current); current=[]; }
    else current.push(pt);
  });
  if(current.length) segments.push(current);
  return segments;
}
function hourly(startArr,values){
  return values.map(function(v,i){ return [startArr[0]+i/24,v]; });
}
function zip(times,values){
  return times.map(function(t,i){ return t===null?null:[t,values[i]]; });
}
function clipId(p,row){ return 'clip-'+p+'-'+row; }
function drawLine(p,row,points,name,stroke,width,extra){
  const d=splitSegments(points).map(function(seg){
    return 'M'+seg.map(function(pt){ return xScale(p,pt[0]).toFixed(1)+' '+yScale(p,row,pt[1]).toFixed(1); }).join('L');
  }).join('');
  const el=document.createElementNS(SVG_NS,'path');
  
  
  el.setAttribute('d',d);
  el.setAttribute('fill','none');
  el.setAttribute('stroke',stroke);
  el.setAttribute('stroke-width',width);
  el.setAttribute('stroke-linejoin','round');
  if(extra&&extra.dash) el.setAttribute('stroke-dasharray',extra.dash);
  if(extra&&extra.opacity) el.setAttribute('stroke-opacity',extra.opacity);
  el.setAttribute('clip-path','url(#'+clipId(p,row)+')');
  marksLayer.appendChild(el);
}
function drawBand(p,times,lo,hi,name){
  const hiSegs=splitSegments(zip(times,hi));
  const loSegs=splitSegments(zip(times,lo));
  let d='';
  hiSegs.forEach(function(seg,i){
    const top=seg.map(function(pt){ return xScale(p,pt[0]).toFixed(1)+' '+yScale(p,0,pt[1]).toFixed(1); });
    const bot=loSegs[i].slice().reverse().map(function(pt){ return xScale(p,pt[0]).toFixed(1)+' '+yScale(p,0,pt[1]).toFixed(1); });
    d+='M'+top.concat(bot).join('L')+'Z';
  });
  const el=document.createElementNS(SVG_NS,'path');
  
  
  el.setAttribute('d',d);
  el.setAttribute('fill','#ff0000');
  el.setAttribute('fill-opacity','0.5');
  el.setAttribute('clip-path','url(#'+clipId(p,0)+')');
  marksLayer.appendChild(el);
}
function drawScatter(p,row,points,name){
  const g=document.createElementNS(SVG_NS,'g');
  
  
  g.setAttribute('clip-path','url(#'+clipId(p,row)+')');
  points.forEach(function(pt){
    const c=document.createElementNS(SVG_NS,'circle');
    
    
    c.setAttribute('cx',xScale(p,pt[0]).toFixed(1));
    c.setAttribute('cy',yScale(p,row,pt[1]).toFixed(1));
    c.setAttribute('r','2.9');
    c.setAttribute('fill','#a8a8a8');
    g.appendChild(c);
  });
  marksLayer.appendChild(g);
}
function drawLayer(p,points,color,name){
  const base=yScale(p,1,0).toFixed(1);
  const d=splitSegments(points).map(function(seg){
    const x0=xScale(p,seg[0][0]).toFixed(1);
    const x1=xScale(p,seg[seg.length-1][0]).toFixed(1);
    return 'M'+x0+' '+base+'L'+seg.map(function(pt){ return xScale(p,pt[0]).toFixed(1)+' '+yScale(p,1,pt[1]).toFixed(1); }).join('L')+'L'+x1+' '+base+'Z';
  }).join('');
  const el=document.createElementNS(SVG_NS,'path');
  
  
  el.setAttribute('d',d);
  el.setAttribute('fill',color);
  marksLayer.appendChild(el);
}
function drawTickLabel(x,y,label,anchor,name,size){
  const t=document.createElementNS(SVG_NS,'text');
  
  
  t.setAttribute('x',x);
  t.setAttribute('y',y);
  t.setAttribute('font-size',size);
  t.setAttribute('text-anchor',anchor);
  t.setAttribute('dy','0.36em');
  t.textContent=label;
  framesLayer.appendChild(t);
  return t;
}
function drawTick(x1,y1,x2,y2,name){
  const l=document.createElementNS(SVG_NS,'line');
  
  
  l.setAttribute('x1',x1);
  l.setAttribute('y1',y1);
  l.setAttribute('x2',x2);
  l.setAttribute('y2',y2);
  l.setAttribute('stroke','#000');
  l.setAttribute('stroke-width','1.8');
  framesLayer.appendChild(l);
}

// ---------- clip paths ----------
panelKeys.forEach(function(key,p){
  [0,1,2].forEach(function(row){
    const cp=document.createElementNS(SVG_NS,'clipPath');
    cp.setAttribute('id',clipId(p,row));
    const r=document.createElementNS(SVG_NS,'rect');
    r.setAttribute('x',panelLeft[p]);
    r.setAttribute('y',rowTop[row]);
    r.setAttribute('width',panelWidth);
    r.setAttribute('height',rowBottom[row]-rowTop[row]);
    cp.appendChild(r);
    clipsLayer.appendChild(cp);
  });
});

// ---------- row 1 : OHRE ----------
const ohreScatter=[s1aPts,s1bPts,s2Pts,s3aPts,s3bPts];
const ohreAvg=[s1aAvg,hourly(s1bAvgStart,s1bAvgHourly),s2Avg,s3aAvg,hourly(s3bAvgStart,s3bAvgHourly)];
const ohreCohreT=[s1aCohreT,s1bCohreT,s2CohreT,s3aCohreT,s3bCohreT];
const ohreCohre=[s1aCohre,s1bCohre,s2Cohre,s3aCohre,s3bCohre];
const ohreCohreLo=[s1aCohreLo,s1bCohreLo,s2CohreLo,s3aCohreLo,s3bCohreLo];
const ohreCohreHi=[s1aCohreHi,s1bCohreHi,s2CohreHi,s3aCohreHi,s3bCohreHi];
const ohreLod=[s1aLod,s1bLod,s2Lod,s3aLod,s3bLod];
const ohreGap=[[],s1bCohreGap,s2CohreGap,[],[]];
panelKeys.forEach(function(key,p){
  drawScatter(p,0,ohreScatter[p],'tohre-scatter-'+key);
  drawBand(p,ohreCohreT[p],ohreCohreLo[p],ohreCohreHi[p],'cohre-band-'+key);
  drawLine(p,0,ohreAvg[p],'tohre-average-'+key,'#000','1.5');
  if(ohreGap[p].length) drawLine(p,0,ohreGap[p],'cohre-gap-'+key,'#ff0000','1.8',{opacity:'0.45'});
  drawLine(p,0,zip(ohreCohreT[p],ohreCohre[p]),'cohre-line-'+key,'#ff0000','1.5');
  drawLine(p,0,ohreLod[p],'lod-line-'+key,'#000','1.2',{dash:'1.3 1.6'});
});

// ---------- row 2 : stacked fractions (painted from the top species down) ----------
const layersS1a=[[s1aMbo,'mbo'],[s1aIso,'iso'],[s1aOth,'oth'],[s1aAld,'ald'],[s1aGlv,'glv'],[s1aSesq,'sesq'],[s1aMono,'mono']];
const layersS1b=[[s1bMbo,'mbo'],[s1bIso,'iso'],[s1bOth,'oth'],[s1bAld,'ald'],[s1bSesq,'sesq'],[s1bMono,'mono']];
const layersS2=[[s2Mbo,'mbo'],[s2Iso,'iso'],[s2Oth,'oth'],[s2Ald,'ald'],[s2Glv,'glv'],[s2Sesq,'sesq'],[s2Mono,'mono']];
const layersS3a=[[s3aMbo,'mbo'],[s3aIso,'iso'],[s3aOth,'oth'],[s3aAld,'ald'],[s3aGlv,'glv'],[s3aSesq,'sesq'],[s3aMono,'mono']];
const layersS3b=[[s3bMbo,'mbo'],[s3bIso,'iso'],[s3bAcid,'acid'],[s3bGlv,'glv'],[s3bSesq,'sesq'],[s3bMono,'mono']];
[layersS1a,layersS1b,layersS2,layersS3a,layersS3b].forEach(function(layers,p){
  layers.forEach(function(layer){
    drawLayer(p,layer[0],colors[layer[1]],'fraction-'+layer[1]+'-'+panelKeys[p]);
  });
});

// ---------- row 3 : missing OHRE ----------
const missScatter=[s1aMissPts,s1bMissPts,s2MissPts,s3aMissPts,s3bMissPts];
const missLines=[s1aMissing,s1bMissing,s2Missing,s3aMissing,s3bMissing];
panelKeys.forEach(function(key,p){
  drawScatter(p,2,missScatter[p],'missing-scatter-'+key);
  drawLine(p,2,missLines[p],'missing-line-'+key,'#000','2');
});

// ---------- axes ----------
const yTicksTop=[s1aYTicks,s1bYTicks,s2YTicks,s3aYTicks,s3bYTicks];
const yLabelsTop=[s1aYLabels,s1bYLabels,s2YLabels,s3aYLabels,s3bYLabels];
const xTicks=[s1aXTicks,s1bXTicks,s2XTicks,s3aXTicks,s3bXTicks];
const xLabels=[s1aXLabels,s1bXLabels,s2XLabels,s3aXLabels,s3bXLabels];
panelKeys.forEach(function(key,p){
  const left=panelLeft[p],right=left+panelWidth;
  yTicksTop[p].forEach(function(v,i){
    const y=yScale(p,0,v);
    drawTick(left-6,y,left,y,'y-tick-'+key);
    drawTickLabel(left-10,y,yLabelsTop[p][i],'end','y-tick-label-'+key,'20');
  });
  [1,2].forEach(function(row){
    fractionTicks.forEach(function(v,i){
      const y=yScale(p,row,v);
      drawTick(left-6,y,left,y,'y-tick-'+key+'-row'+row);
      drawTick(right,y,right+6,y,'y-tick-right-'+key+'-row'+row);
      if(p===0&&fractionLabels[i]) drawTickLabel(left-10,y,fractionLabels[i],'end','y-tick-label-row'+row,'20');
    });
  });
  xTicks[p].forEach(function(t,i){
    const x=xScale(p,t);
    drawTick(x,rowBottom[2],x,rowBottom[2]+6,'x-tick-'+key);
    const lab=drawTickLabel(x-3,1000,xLabels[p][i],'middle','x-tick-label-'+key,'22');
    lab.setAttribute('transform','rotate(-65 '+(x-3)+' 1000)');
  });
  [0,1,2].forEach(function(row){
    const r=document.createElementNS(SVG_NS,'rect');
    
    
    r.setAttribute('x',left);
    r.setAttribute('y',rowTop[row]);
    r.setAttribute('width',panelWidth);
    r.setAttribute('height',rowBottom[row]-rowTop[row]);
    r.setAttribute('fill','none');
    r.setAttribute('stroke','#000');
    r.setAttribute('stroke-width','3.6');
    framesLayer.appendChild(r);
  });
});
</script>
</svg>
</body>
</html>
